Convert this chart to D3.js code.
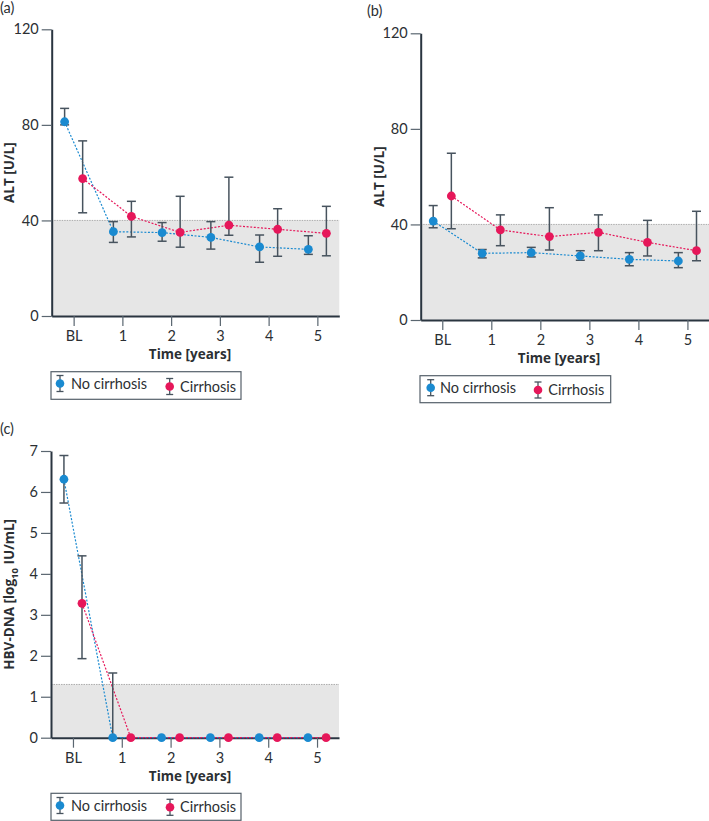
<!DOCTYPE html>
<html><head><meta charset="utf-8">
<script src="https://cdn.jsdelivr.net/npm/d3@7"></script>
<style>body{margin:0;background:#fff}svg{display:block}</style>
</head><body>
<svg id="c" width="709" height="821"></svg>
<script>
const categories = ["BL","1","2","3","4","5"];
const seriesNames = ["No cirrhosis","Cirrhosis"];
const altTicks = [0,40,80,120];
const dnaTicks = [0,1,2,3,4,5,6,7];

// Panel (a) ALT
const altA_noCirr    = [81.3, 35.3, 34.9, 32.9, 28.9, 27.9];
const altA_noCirr_lo = [80.0, 30.8, 31.3, 28.0, 22.5, 25.8];
const altA_noCirr_hi = [86.9, 39.5, 39.1, 39.5, 33.9, 33.6];
const altA_cirr      = [57.5, 41.7, 35.0, 38.0, 36.3, 34.6];
const altA_cirr_lo   = [43.2, 33.1, 28.8, 33.8, 25.0, 25.2];
const altA_cirr_hi   = [73.3, 48.0, 50.1, 58.1, 44.9, 45.9];

// Panel (b) ALT
const altB_noCirr    = [41.4, 27.9, 28.2, 26.8, 25.4, 24.7];
const altB_noCirr_lo = [38.6, 26.0, 26.4, 25.0, 22.7, 21.9];
const altB_noCirr_hi = [47.9, 29.5, 30.4, 29.0, 28.2, 28.2];
const altB_cirr      = [51.9, 37.7, 34.9, 36.7, 32.5, 29.0];
const altB_cirr_lo   = [38.2, 31.1, 29.3, 29.0, 26.8, 24.8];
const altB_cirr_hi   = [69.8, 44.0, 47.0, 44.0, 41.7, 45.5];

// Panel (c) HBV-DNA
const dna_noCirr    = [6.31, 0, 0, 0, 0, 0];
const dna_noCirr_lo = [5.73, 0, null, null, null, null];
const dna_noCirr_hi = [6.89, 1.58, null, null, null, null];
const dna_cirr      = [3.28, 0, 0, 0, 0, 0];
const dna_cirr_lo   = [1.93, null, null, null, null, null];
const dna_cirr_hi   = [4.44, null, null, null, null, null];

const altLimit = 40;
const dnaLimit = 1.3;

const BLUE = "#1a8ad0", RED = "#e6175a", BAR = "#47535e", AXIS = "#2a3540", TXT = "#2b2f33";
const BODY_FONT = "Lato, 'Noto Sans', sans-serif";
const TITLE_FONT = "'Open Sans', Lato, sans-serif";
const svg = d3.select("#c");

function txt(sel, size, family, weight){
  return sel.style("font-family", family || BODY_FONT).style("font-size", size + "px")
    .style("font-weight", weight || "normal").style("fill", TXT);
}

function panel(o){
  const g = svg.append("g");
  const x = d3.scalePoint().domain(categories).range([o.left, o.right]).padding(o.pad);
  const y = d3.scaleLinear().domain([0, o.ymax]).range([o.bottom, o.top]);
  const off = x.step()*0.185;
  // shaded normal range
  g.append("rect").attr("x", o.left).attr("y", y(o.limit))
    .attr("width", o.right - o.left).attr("height", y(0) - y(o.limit)).attr("fill", "#e6e6e6");
  g.append("line").attr("x1", o.left).attr("x2", o.right).attr("y1", y(o.limit)).attr("y2", y(o.limit))
    .attr("stroke", "#9a9a9a").attr("stroke-width", 0.8).attr("stroke-dasharray", "1.5,1");
  // axes
  const ya = d3.axisLeft(y).tickValues(o.ticks).tickFormat(d3.format("d")).tickSize(10).tickPadding(3).tickSizeOuter(0);
  const yg = g.append("g").attr("transform", `translate(${o.left},0)`).call(ya);
  const xa = d3.axisBottom(x).tickSize(10).tickPadding(5).tickSizeOuter(0);
  const xg = g.append("g").attr("transform", `translate(0,${o.bottom})`).call(xa);
  [yg, xg].forEach(a => {
    a.select(".domain").attr("stroke", AXIS).attr("stroke-width", 2);
    a.selectAll(".tick line").attr("stroke", "#5a6670").attr("stroke-width", 1.2);
    txt(a.selectAll(".tick text"), 14.5);
  });
  // titles
  txt(g.append("text").attr("x", o.xTitleX).attr("y", o.bottom + 43).attr("text-anchor", "middle"), 13.5, TITLE_FONT, "bold")
    .text("Time [years]");
  const yt = txt(g.append("text").attr("transform", `translate(${o.yTitleX},${(o.top + o.bottom)/2}) rotate(-90)`)
    .attr("text-anchor", "middle"), 13.5, TITLE_FONT, "bold");
  o.ytitle(yt);
  txt(g.append("text").attr("x", o.labX).attr("y", o.labY), 14.5).text(o.label);

  const series = [
    {v: o.s1, lo: o.s1lo, hi: o.s1hi, c: BLUE, d: -off},
    {v: o.s2, lo: o.s2lo, hi: o.s2hi, c: RED, d: off}
  ];
  const line = d3.line();
  series.forEach(s => {
    const pts = s.v.map((v, i) => [x(categories[i]) + s.d, y(v)]);
    g.append("path").attr("d", line(pts)).attr("fill", "none").attr("stroke", s.c)
      .attr("stroke-width", 1.2).attr("stroke-dasharray", "2,1.6");
  });
  series.forEach(s => {
    s.v.forEach((v, i) => {
      if (s.hi[i] == null) return;
      const cx = x(categories[i]) + s.d;
      const lo = s.lo[i] == null ? v : s.lo[i];
      g.append("line").attr("x1", cx).attr("x2", cx).attr("y1", y(lo)).attr("y2", y(s.hi[i]))
        .attr("stroke", BAR).attr("stroke-width", 1.5);
      [s.hi[i], lo].forEach(e => {
        g.append("line").attr("x1", cx - 4.5).attr("x2", cx + 4.5).attr("y1", y(e)).attr("y2", y(e))
          .attr("stroke", BAR).attr("stroke-width", 1.5);
      });
    });
  });
  series.forEach(s => {
    g.selectAll(null).data(s.v).enter().append("circle")
      .attr("cx", (v, i) => x(categories[i]) + s.d).attr("cy", v => y(v)).attr("r", 4.4).attr("fill", s.c);
  });
  // legend
  const L = o.leg;
  const lg = svg.append("g");
  lg.append("rect").attr("x", L.x).attr("y", L.y).attr("width", L.w).attr("height", L.h)
    .attr("fill", "#fff").attr("stroke", "#55606a").attr("stroke-width", 1.2);
  L.items.forEach((it, k) => {
    const c = k === 0 ? BLUE : RED;
    lg.append("line").attr("x1", it.sx).attr("x2", it.sx).attr("y1", it.cy - 8).attr("y2", it.cy + 8)
      .attr("stroke", BAR).attr("stroke-width", 1.3);
    [it.cy - 8, it.cy + 8].forEach(e => lg.append("line").attr("x1", it.sx - 3.5).attr("x2", it.sx + 3.5)
      .attr("y1", e).attr("y2", e).attr("stroke", BAR).attr("stroke-width", 1.3));
    lg.append("circle").attr("cx", it.sx).attr("cy", it.cy).attr("r", 4.3).attr("fill", c);
    txt(lg.append("text").attr("x", it.tx).attr("y", it.cy + 5), 14.5).text(seriesNames[k]);
  });
}

panel({left: 51.7, right: 339.3, top: 29.3, bottom: 316, pad: 0.45, ymax: 120, ticks: altTicks, limit: altLimit,
  s1: altA_noCirr, s1lo: altA_noCirr_lo, s1hi: altA_noCirr_hi, s2: altA_cirr, s2lo: altA_cirr_lo, s2hi: altA_cirr_hi,
  xTitleX: 190, yTitleX: 13.5, ytitle: t => t.text("ALT [U/L]"), label: "(a)", labX: 0, labY: 13,
  leg: {x: 51, y: 371.7, w: 190, h: 27.6, items: [{sx: 60, cy: 383.5, tx: 71}, {sx: 169.7, cy: 386.5, tx: 180}]}});

panel({left: 420.7, right: 709, top: 33.3, bottom: 320, pad: 0.44, ymax: 120, ticks: altTicks, limit: altLimit,
  s1: altB_noCirr, s1lo: altB_noCirr_lo, s1hi: altB_noCirr_hi, s2: altB_cirr, s2lo: altB_cirr_lo, s2hi: altB_cirr_hi,
  xTitleX: 559, yTitleX: 383.5, ytitle: t => t.text("ALT [U/L]"), label: "(b)", labX: 367, labY: 16,
  leg: {x: 420, y: 375.7, w: 190.7, h: 27, items: [{sx: 430.7, cy: 387.7, tx: 440}, {sx: 538, cy: 390, tx: 548.3}]}});

panel({left: 51, right: 339, top: 451, bottom: 737.7, pad: 0.45, ymax: 7, ticks: dnaTicks, limit: dnaLimit,
  s1: dna_noCirr, s1lo: dna_noCirr_lo, s1hi: dna_noCirr_hi, s2: dna_cirr, s2lo: dna_cirr_lo, s2hi: dna_cirr_hi,
  xTitleX: 190, yTitleX: 13.5, ytitle: t => { t.append("tspan").text("HBV-DNA [log");
    t.append("tspan").style("font-size", "9.5px").attr("dy", 4).text("10");
    t.append("tspan").attr("dy", -4).text(" IU/mL]"); },
  label: "(c)", labX: 0, labY: 434,
  leg: {x: 51, y: 793.3, w: 190, h: 27, items: [{sx: 60, cy: 805.5, tx: 71}, {sx: 170, cy: 807.3, tx: 180}]}});
</script>
</body></html>
